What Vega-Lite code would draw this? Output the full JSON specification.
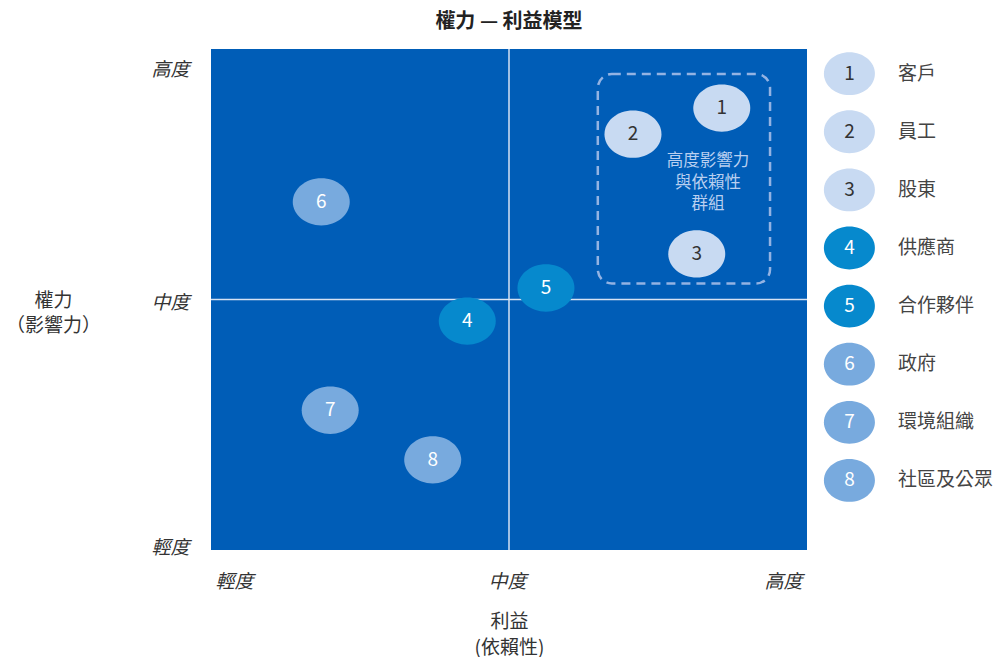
{
  "$schema": "https://vega.github.io/schema/vega-lite/v6.json",
  "padding": {"left": 5, "top": 12, "right": 0, "bottom": 0},
  "background": "white",
  "datasets": {
    "stakeholders": [
      {"id": 1, "name": "客戶", "interest": 8.57, "power": 8.82, "tier": "A"},
      {"id": 2, "name": "員工", "interest": 7.08, "power": 8.3, "tier": "A"},
      {"id": 3, "name": "股東", "interest": 8.15, "power": 5.91, "tier": "A"},
      {"id": 4, "name": "供應商", "interest": 4.3, "power": 4.57, "tier": "B"},
      {"id": 5, "name": "合作夥伴", "interest": 5.62, "power": 5.23, "tier": "B"},
      {"id": 6, "name": "政府", "interest": 1.85, "power": 6.95, "tier": "C"},
      {"id": 7, "name": "環境組織", "interest": 2.0, "power": 2.79, "tier": "C"},
      {"id": 8, "name": "社區及公眾", "interest": 3.72, "power": 1.8, "tier": "C"}
    ]
  },
  "config": {"view": {"stroke": null}, "font": "Noto Sans CJK TC"},
  "spacing": 15,
  "hconcat": [
    {
      "width": 596,
      "height": 501,
      "title": {"text": "權力 — 利益模型", "fontSize": 20, "fontWeight": "bold", "color": "#222", "anchor": "middle", "frame": "group", "offset": 16},
      "view": {"fill": "#005db7", "stroke": null},
      "data": {"name": "stakeholders"},
      "layer": [
        {
          "data": {"values": [{"v": 5}]},
          "mark": {"type": "rule", "color": "#d6e2f3", "strokeWidth": 1.5},
          "encoding": {"x": {"field": "v", "type": "quantitative", "scale": {"domain": [0, 10], "nice": false}}}
        },
        {
          "data": {"values": [{"v": 5}]},
          "mark": {"type": "rule", "color": "#d6e2f3", "strokeWidth": 1.5},
          "encoding": {"y": {"field": "v", "type": "quantitative", "scale": {"domain": [0, 10], "nice": false}}}
        },
        {
          "data": {"values": [{"x1": 6.49, "x2": 9.38, "y1": 9.5, "y2": 5.32}]},
          "mark": {"type": "rect", "filled": false, "color": "#93b3e3", "strokeWidth": 2.5, "strokeDash": [9, 6], "cornerRadius": 14},
          "encoding": {
            "x": {"field": "x1", "type": "quantitative"},
            "x2": {"field": "x2"},
            "y": {"field": "y1", "type": "quantitative"},
            "y2": {"field": "y2"}
          }
        },
        {
          "data": {"values": [{"gx": 8.34, "gy": 7.76, "label": "高度影響力\n與依賴性\n群組"}]},
          "mark": {"type": "text", "lineBreak": "\n", "fontSize": 16.5, "lineHeight": 21.5, "color": "#b9cff0", "align": "center", "baseline": "middle"},
          "encoding": {
            "x": {"field": "gx", "type": "quantitative"},
            "y": {"field": "gy", "type": "quantitative"},
            "text": {"field": "label"}
          }
        },
        {
          "mark": {"type": "point", "filled": true, "opacity": 1, "size": 3249, "shape": "M -1 0 A 1 0.83 0 1 0 1 0 A 1 0.83 0 1 0 -1 0 Z"},
          "encoding": {
            "x": {
              "field": "interest", "type": "quantitative",
              "axis": {
                "values": [0, 5, 10],
                "labelExpr": "datum.value == 0 ? '輕度' : datum.value == 5 ? '中度' : '高度'",
                "domain": false, "ticks": false, "grid": false,
                "labelFlush": true,
                "labelOffset": {"condition": [{"test": "datum.value == 10", "value": -5}, {"test": "datum.value == 0", "value": 4}], "value": -2},
                "labelFontStyle": "italic", "labelFontSize": 19, "labelColor": "#333", "labelPadding": 22,
                "title": ["利益", "(依賴性)"],
                "titleFontSize": 19, "titleFontWeight": "normal", "titleColor": "#333",
                "titleLineHeight": 26, "titleY": 62, "titleBaseline": "top"
              }
            },
            "y": {
              "field": "power", "type": "quantitative",
              "axis": {
                "values": [0, 5, 10],
                "labelExpr": "datum.value == 0 ? '輕度' : datum.value == 5 ? '中度' : '高度'",
                "domain": false, "ticks": false, "grid": false,
                "labelFlush": false, "labelBaseline": "middle",
                "labelOffset": {"condition": [{"test": "datum.value == 10", "value": 20}, {"test": "datum.value == 0", "value": -3}], "value": 3},
                "labelFontStyle": "italic", "labelFontSize": 19, "labelColor": "#333", "labelPadding": 22,
                "title": ["權力", "（影響力）"],
                "titleAngle": 0, "titleX": -158, "titleY": 242, "titleAlign": "center", "titleBaseline": "top",
                "titleFontSize": 19, "titleFontWeight": "normal", "titleColor": "#333", "titleLineHeight": 25
              }
            },
            "color": {
              "field": "tier", "type": "nominal",
              "scale": {"domain": ["A", "B", "C"], "range": ["#c8daf2", "#0689cd", "#78aade"]},
              "legend": null
            }
          }
        },
        {
          "mark": {"type": "text", "fontSize": 19, "align": "center", "baseline": "middle"},
          "encoding": {
            "x": {"field": "interest", "type": "quantitative"},
            "y": {"field": "power", "type": "quantitative"},
            "text": {"field": "id", "type": "nominal"},
            "color": {"condition": {"test": "datum.id <= 3", "value": "#333333"}, "value": "#ffffff"}
          }
        }
      ]
    },
    {
      "width": 180,
      "height": 501,
      "view": {"fill": null, "stroke": null},
      "data": {"name": "stakeholders"},
      "layer": [
        {
          "mark": {"type": "point", "filled": true, "opacity": 1, "size": 2601, "shape": "M -1 0 A 1 0.84 0 1 0 1 0 A 1 0.84 0 1 0 -1 0 Z"},
          "encoding": {
            "x": {"datum": 1.22, "type": "quantitative", "scale": {"domain": [0, 9], "nice": false, "zero": false}, "axis": null},
            "y": {"field": "id", "type": "quantitative", "scale": {"domain": [0.575, 9.198], "reverse": true, "nice": false, "zero": false}, "axis": null},
            "color": {
              "field": "tier", "type": "nominal",
              "scale": {"domain": ["A", "B", "C"], "range": ["#c8daf2", "#0689cd", "#78aade"]},
              "legend": null
            }
          }
        },
        {
          "mark": {"type": "text", "fontSize": 19, "align": "center", "baseline": "middle"},
          "encoding": {
            "x": {"datum": 1.22, "type": "quantitative"},
            "y": {"field": "id", "type": "quantitative"},
            "text": {"field": "id", "type": "nominal"},
            "color": {"condition": {"test": "datum.id <= 3", "value": "#333333"}, "value": "#ffffff"}
          }
        },
        {
          "mark": {"type": "text", "fontSize": 19, "align": "left", "baseline": "middle", "color": "#444444"},
          "encoding": {
            "x": {"datum": 3.65, "type": "quantitative"},
            "y": {"field": "id", "type": "quantitative"},
            "text": {"field": "name", "type": "nominal"}
          }
        }
      ]
    }
  ]
}
